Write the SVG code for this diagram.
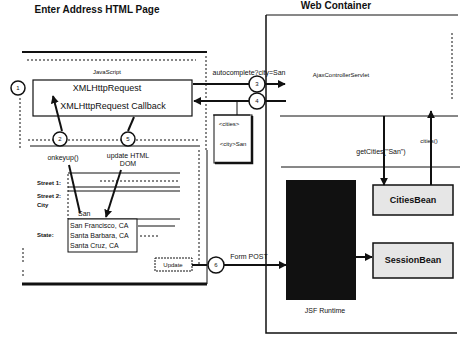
<svg xmlns="http://www.w3.org/2000/svg" width="462" height="344" viewBox="0 0 462 344">
<style>
text{font-family:"Liberation Sans",Arial,sans-serif;fill:#111}
.t{font-size:10px;font-weight:bold}
.s{font-size:6px}
.l{font-size:7px}
.m{font-size:9px}
.ln{stroke:#111;stroke-width:1;fill:none}
.th{stroke:#111;stroke-width:2;fill:none}
.dt{stroke:#111;stroke-width:1;stroke-dasharray:2 2;fill:none}
.c{fill:#fff;stroke:#111;stroke-width:1.5}
.ar{stroke:#111;stroke-width:2;fill:none;marker-end:url(#ah)}
</style>
<defs>
<marker id="ah" viewBox="0 0 10 10" refX="9" refY="5" markerWidth="4" markerHeight="4" orient="auto"><path d="M0,0L10,5L0,10z" fill="#111"/></marker>
</defs>
<rect width="462" height="344" fill="#fff"/>
<text class="t" x="97" y="13" text-anchor="middle">Enter Address HTML Page</text>
<text class="t" x="336" y="9" text-anchor="middle">Web Container</text>

<g id="page">
<path class="th" d="M22,52H207"/>
<path class="dt" d="M27,60H196"/>
<path class="dt" d="M206,56V150"/>
<path class="ln" d="M207,150V284"/>
<path d="M22,284H207" stroke="#111" stroke-width="3"/>
<path class="dt" d="M20,98V150"/>
<path class="dt" d="M23,248V262M23,270V276"/>
<path class="dt" d="M28,140H200"/>
<path class="ln" d="M30,146H200"/>
<path class="dt" d="M199,150V266"/>
</g>

<g id="javascript">
<text class="s" x="107" y="74" text-anchor="middle">JavaScript</text>
<rect x="33" y="80" width="159" height="36" fill="#fff" stroke="#111" stroke-width="1.2"/>
<text class="m" x="107" y="91" text-anchor="middle">XMLHttpRequest</text>
<text class="m" x="113" y="109" text-anchor="middle">XMLHttpRequest Callback</text>
</g>

<g id="form">
<text class="s" x="37" y="185" font-weight="bold">Street 1:</text>
<text class="s" x="37" y="198" font-weight="bold">Street 2:</text>
<text class="s" x="37" y="207" font-weight="bold">City</text>
<text class="s" x="37" y="237" font-weight="bold">State:</text>
<path class="ln" d="M68,173H180M68,187H180M68,191H180M68,219H180"/>
<path class="dt" d="M68,174V219M100,181H178"/>
<text class="l" x="78" y="216">San</text>
<rect x="68" y="219" width="69" height="33" fill="#fff" stroke="#111"/>
<text class="l" x="70" y="228">San Francisco, CA</text>
<text class="l" x="70" y="238">Santa Barbara, CA</text>
<text class="l" x="70" y="248">Santa Cruz, CA</text>
<path class="ln" d="M138,226H175"/>
<path class="dt" d="M140,236H160"/>
</g>

<g id="update">
<rect x="155" y="258" width="37" height="13" fill="#fff" stroke="#111" stroke-dasharray="2 1"/>
<text class="s" x="173" y="267" text-anchor="middle">Update</text>
</g>

<g id="xml">
<rect x="214" y="115" width="38" height="48" fill="#fff" stroke="#111"/>
<path d="M215,163H252V116" stroke="#111" stroke-width="2.5" fill="none"/>
<text class="s" x="229" y="126" text-anchor="middle">&lt;cities&gt;</text>
<text class="s" x="233" y="146" text-anchor="middle">&lt;city&gt;San</text>
</g>

<g id="container">
<path class="ln" d="M266,15H458"/>
<path d="M266,15V333H457" stroke="#111" stroke-width="1.5" fill="none"/>
<path class="dt" d="M452,33V100"/>
<path class="ln" d="M280,116H458M281,167H460"/>
<text class="s" x="341" y="77" text-anchor="middle">AjaxControllerServlet</text>
<text class="l" x="325" y="313" text-anchor="middle">JSF Runtime</text>
</g>

<g id="faces"><rect x="286" y="180" width="70" height="120" fill="#111"/></g>

<g id="citiesbean">
<rect x="373" y="185" width="80" height="30" fill="#e6e6e6" stroke="#111" stroke-width="1.5"/>
<text x="413" y="203" text-anchor="middle" font-size="9" font-weight="bold">CitiesBean</text>
</g>
<g id="sessionbean">
<rect x="373" y="243" width="80" height="35" fill="#e6e6e6" stroke="#111" stroke-width="1.5"/>
<text x="413" y="263" text-anchor="middle" font-size="9" font-weight="bold">SessionBean</text>
</g>

<g id="connectors">
<path class="ar" d="M62,131L53,96"/>
<path class="th" d="M128,131L134,117"/>
<path class="th" d="M69,165L80,213"/>
<path class="ar" d="M121,170L106,217"/>
<path class="ar" d="M193,84H285"/>
<path class="ar" d="M286,101H194"/>
<path class="ln" d="M237,101V115M213,115H250"/>
<path class="th" d="M192,265H207"/>
<path class="ar" d="M224,265H286"/>
<path class="ar" d="M384,116V185"/>
<path class="ar" d="M431,185V111"/>
<path class="ar" d="M356,257H372"/>
<text class="l" x="249" y="75" text-anchor="middle">autocomplete?city=San</text>
<text class="l" x="63" y="160" text-anchor="middle">onkeyup()</text>
<text class="l" x="128" y="158" text-anchor="middle">update HTML</text>
<text class="l" x="128" y="166" text-anchor="middle">DOM</text>
<text class="l" x="249" y="259" text-anchor="middle">Form POST</text>
<text class="l" x="381" y="154" text-anchor="middle">getCities("San")</text>
<text class="s" x="429" y="143" text-anchor="middle">cities()</text>
</g>

<g id="n1"><circle class="c" cx="18" cy="88" r="7"/><text class="s" x="18" y="90" text-anchor="middle">1</text></g>
<g id="n2"><circle class="c" cx="60" cy="139" r="7"/><text class="s" x="60" y="141" text-anchor="middle">2</text></g>
<g id="n3"><circle class="c" cx="257" cy="84" r="8"/><text class="s" x="257" y="86" text-anchor="middle">3</text></g>
<g id="n4"><circle class="c" cx="257" cy="101" r="8"/><text class="s" x="257" y="103" text-anchor="middle">4</text></g>
<g id="n5"><circle class="c" cx="128" cy="139" r="7"/><text class="s" x="128" y="141" text-anchor="middle">5</text></g>
<g id="n6"><circle class="c" cx="216" cy="265" r="8"/><text class="s" x="216" y="267" text-anchor="middle">6</text></g>
</svg>
